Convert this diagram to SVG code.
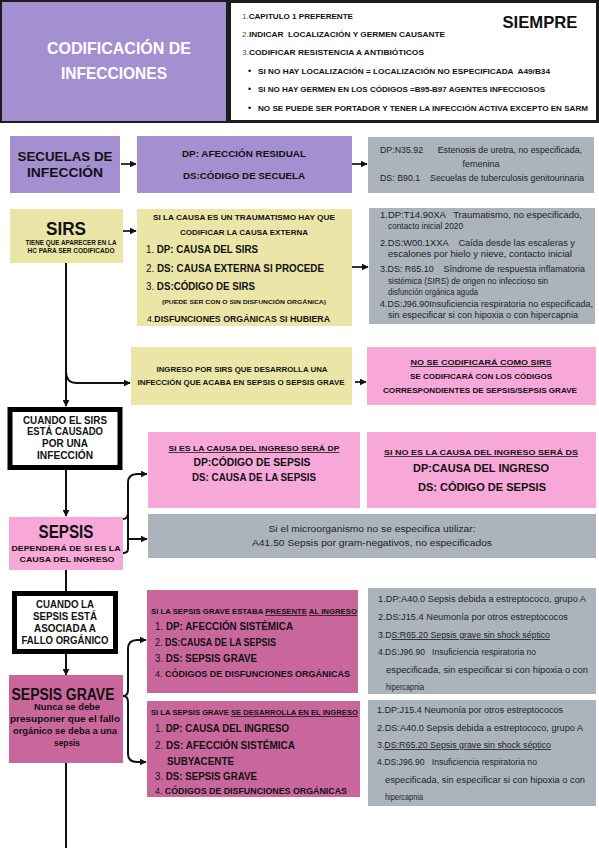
<svg xmlns="http://www.w3.org/2000/svg" width="599" height="848" viewBox="0 0 599 848">
<defs>
<marker id="ah" viewBox="0 0 10 10" refX="9" refY="5" markerWidth="7" markerHeight="7" markerUnits="userSpaceOnUse" orient="auto"><path d="M0,0 L10,5 L0,10 z" fill="#111"/></marker>
<style>
text{font-family:"Liberation Sans",Arial,sans-serif;fill:#111}
.b{font-weight:bold}
.c{text-anchor:middle}
.w{fill:#fff}
.g{font-size:8.5px;fill:#1e1e1e}
.n{font-weight:normal}
.u{text-decoration:underline}
.purple{fill:#a48fd1}
.gray{fill:#abb4bd}
.khaki{fill:#ebe6a8}
.pink{fill:#f7a8d9}
.mag{fill:#c9679d}
.frame{fill:#fff;stroke:#000;stroke-width:5}
.conn path{fill:none;stroke:#111;stroke-width:1.7}
.conn .main{stroke-width:2}
</style>
</defs>
<rect width="599" height="848" fill="#fff"/>

<g id="header">
<rect x="0" y="0" width="599" height="123" fill="#1c1c1c"/>
<rect x="2" y="2" width="224" height="119" class="purple"/>
<rect x="231" y="3" width="365" height="117" fill="#fff"/>
<text x="119" y="54" class="b c w" font-size="16" textLength="144" lengthAdjust="spacingAndGlyphs">CODIFICACIÓN DE</text>
<text x="114" y="79" class="b c w" font-size="16" textLength="106" lengthAdjust="spacingAndGlyphs">INFECCIONES</text>
<text x="242" y="19" class="b" font-size="8" textLength="111" lengthAdjust="spacingAndGlyphs"><tspan class="n" fill="#555">1.</tspan>CAPITULO 1 PREFERENTE</text>
<text x="242" y="37" class="b" font-size="8" textLength="203" lengthAdjust="spacingAndGlyphs" xml:space="preserve"><tspan class="n" fill="#555">2.</tspan>INDICAR  LOCALIZACIÓN Y GERMEN CAUSANTE</text>
<text x="242" y="55" class="b" font-size="8" textLength="182" lengthAdjust="spacingAndGlyphs"><tspan class="n" fill="#555">3.</tspan>CODIFICAR RESISTENCIA A ANTIBIÓTICOS</text>
<text x="248" y="74" font-size="9">•</text>
<text x="248" y="92" font-size="9">•</text>
<text x="248" y="111" font-size="9">•</text>
<text x="258" y="74" class="b" font-size="8" textLength="292" lengthAdjust="spacingAndGlyphs" xml:space="preserve">SI NO HAY LOCALIZACIÓN = LOCALIZACIÓN NO ESPECIFICADA  A49/B34</text>
<text x="258" y="92" class="b" font-size="8" textLength="287" lengthAdjust="spacingAndGlyphs">SI NO HAY GERMEN EN LOS CÓDIGOS =B95-B97 AGENTES INFECCIOSOS</text>
<text x="258" y="111" class="b" font-size="8" textLength="330" lengthAdjust="spacingAndGlyphs">NO SE PUEDE SER PORTADOR Y TENER LA INFECCIÓN ACTIVA EXCEPTO EN SARM</text>
<text x="540" y="28" class="b c" font-size="16.5" textLength="75" lengthAdjust="spacingAndGlyphs">SIEMPRE</text>
</g>

<g id="secuelas">
<rect x="10" y="136" width="110" height="57" class="purple"/>
<text x="65" y="161" class="b c" font-size="13.5" textLength="95" lengthAdjust="spacingAndGlyphs">SECUELAS DE</text>
<text x="65" y="177" class="b c" font-size="13.5" textLength="76" lengthAdjust="spacingAndGlyphs">INFECCIÓN</text>
</g>
<g id="secuelas-dp">
<rect x="137" y="136" width="215" height="57" class="purple"/>
<text x="244" y="157" class="b c" font-size="9.5" textLength="124" lengthAdjust="spacingAndGlyphs">DP: AFECCIÓN RESIDUAL</text>
<text x="244" y="179" class="b c" font-size="9.5" textLength="122" lengthAdjust="spacingAndGlyphs">DS:CÓDIGO DE SECUELA</text>
</g>
<g id="secuelas-ej">
<rect x="368" y="137" width="226" height="56" class="gray"/>
<text x="380" y="153" class="g" textLength="202" lengthAdjust="spacingAndGlyphs" xml:space="preserve">DP:N35.92      Estenosis de uretra, no especificada,</text>
<text x="481" y="167" class="g c" textLength="37" lengthAdjust="spacingAndGlyphs">femenina</text>
<text x="380" y="181" class="g" textLength="204" lengthAdjust="spacingAndGlyphs" xml:space="preserve">DS: B90.1    Secuelas de tuberculosis genitourinaria</text>
</g>

<g id="sirs">
<rect x="10" y="209" width="113" height="54" class="khaki"/>
<text x="66" y="235" class="b c" font-size="18" textLength="40" lengthAdjust="spacingAndGlyphs">SIRS</text>
<text x="71" y="245" class="b c" font-size="6.3" textLength="91" lengthAdjust="spacingAndGlyphs">TIENE QUE APARECER EN LA</text>
<text x="71" y="253" class="b c" font-size="6.3" textLength="87" lengthAdjust="spacingAndGlyphs">HC PARA SER CODIFICADO</text>
</g>
<g id="sirs-reglas">
<rect x="137" y="209" width="215" height="117" class="khaki"/>
<text x="244" y="220" class="b c" font-size="7.5" textLength="182" lengthAdjust="spacingAndGlyphs">SI LA CAUSA ES UN TRAUMATISMO HAY QUE</text>
<text x="244" y="235" class="b c" font-size="7.5" textLength="128" lengthAdjust="spacingAndGlyphs">CODIFICAR LA CAUSA EXTERNA</text>
<text x="146" y="253" class="b" font-size="11" textLength="112" lengthAdjust="spacingAndGlyphs"><tspan class="n">1. </tspan>DP: CAUSA DEL SIRS</text>
<text x="146" y="272" class="b" font-size="11" textLength="178" lengthAdjust="spacingAndGlyphs"><tspan class="n">2. </tspan>DS: CAUSA EXTERNA SI PROCEDE</text>
<text x="146" y="290" class="b" font-size="11" textLength="109" lengthAdjust="spacingAndGlyphs"><tspan class="n">3. </tspan>DS:CÓDIGO DE SIRS</text>
<text x="244" y="304" class="b c" font-size="5.8" textLength="164" lengthAdjust="spacingAndGlyphs">(PUEDE SER CON O SIN DISFUNCIÓN ORGÁNICA)</text>
<text x="147" y="322" class="b" font-size="9.5" textLength="183" lengthAdjust="spacingAndGlyphs"><tspan class="n">4.</tspan>DISFUNCIONES ORGÁNICAS SI HUBIERA</text>
</g>
<g id="sirs-ej">
<rect x="369" y="208" width="226" height="116" class="gray"/>
<text x="380" y="218" class="g" textLength="202" lengthAdjust="spacingAndGlyphs" xml:space="preserve">1.DP:T14.90XA   Traumatismo, no especificado,</text>
<text x="388" y="229" class="g" textLength="75" lengthAdjust="spacingAndGlyphs">contacto inicial 2020</text>
<text x="380" y="246" class="g" textLength="195" lengthAdjust="spacingAndGlyphs" xml:space="preserve">2.DS:W00.1XXA    Caída desde las escaleras y</text>
<text x="388" y="257" class="g" textLength="184" lengthAdjust="spacingAndGlyphs">escalones por hielo y nieve, contacto inicial</text>
<text x="380" y="272" class="g" textLength="205" lengthAdjust="spacingAndGlyphs" xml:space="preserve">3.DS: R65.10    Síndrome de respuesta inflamatoria</text>
<text x="388" y="284" class="g" textLength="160" lengthAdjust="spacingAndGlyphs">sistémica (SIRS) de origen no infeccioso sin</text>
<text x="388" y="295" class="g" textLength="90" lengthAdjust="spacingAndGlyphs">disfunción orgánica aguda</text>
<text x="380" y="307" class="g" textLength="213" lengthAdjust="spacingAndGlyphs">4.DS:J96.90Insuficiencia respiratoria no especificada,</text>
<text x="388" y="318" class="g" textLength="190" lengthAdjust="spacingAndGlyphs">sin especificar si con hipoxia o con hipercapnia</text>
</g>

<g id="ingreso-sirs">
<rect x="131" y="347" width="221" height="58" class="khaki"/>
<text x="242" y="372" class="b c" font-size="8" textLength="171" lengthAdjust="spacingAndGlyphs">INGRESO POR SIRS QUE DESARROLLA UNA</text>
<text x="241" y="385" class="b c" font-size="8" textLength="207" lengthAdjust="spacingAndGlyphs">INFECCIÓN QUE ACABA EN SEPSIS O SEPSIS GRAVE</text>
</g>
<g id="no-sirs">
<rect x="367" y="347" width="229" height="58" class="pink"/>
<text x="481" y="365" class="b c u" font-size="8" textLength="141" lengthAdjust="spacingAndGlyphs">NO SE CODIFICARÁ COMO SIRS</text>
<text x="481" y="379" class="b c" font-size="8" textLength="142" lengthAdjust="spacingAndGlyphs">SE CODIFICARÁ CON LOS CÓDIGOS</text>
<text x="480" y="393" class="b c" font-size="8" textLength="194" lengthAdjust="spacingAndGlyphs">CORRESPONDIENTES DE SEPSIS/SEPSIS GRAVE</text>
</g>

<g id="cuando-sirs">
<rect x="10" y="409.5" width="110" height="58" class="frame"/>
<text x="65" y="424" class="b c" font-size="10" textLength="84" lengthAdjust="spacingAndGlyphs">CUANDO EL SIRS</text>
<text x="65" y="435" class="b c" font-size="10" textLength="76" lengthAdjust="spacingAndGlyphs">ESTÁ CAUSADO</text>
<text x="65" y="447" class="b c" font-size="10" textLength="46" lengthAdjust="spacingAndGlyphs">POR UNA</text>
<text x="65" y="459" class="b c" font-size="10" textLength="56" lengthAdjust="spacingAndGlyphs">INFECCIÓN</text>
</g>

<g id="sepsis-dp">
<rect x="148" y="432" width="212" height="76" class="pink"/>
<text x="254" y="451" class="b c u" font-size="7.5" textLength="171" lengthAdjust="spacingAndGlyphs">SI ES LA CAUSA DEL INGRESO SERÁ DP</text>
<text x="252" y="466" class="b c" font-size="10" textLength="117" lengthAdjust="spacingAndGlyphs">DP:CÓDIGO DE SEPSIS</text>
<text x="254" y="481" class="b c" font-size="10" textLength="124" lengthAdjust="spacingAndGlyphs">DS: CAUSA DE LA SEPSIS</text>
</g>
<g id="sepsis-ds">
<rect x="367" y="432" width="229" height="76" class="pink"/>
<text x="481" y="455" class="b c u" font-size="7.5" textLength="194" lengthAdjust="spacingAndGlyphs">SI NO ES LA CAUSA DEL INGRESO SERÁ DS</text>
<text x="481" y="472" class="b c" font-size="11" textLength="136" lengthAdjust="spacingAndGlyphs">DP:CAUSA DEL INGRESO</text>
<text x="482" y="491" class="b c" font-size="11" textLength="128" lengthAdjust="spacingAndGlyphs">DS: CÓDIGO DE SEPSIS</text>
</g>

<g id="sepsis">
<rect x="9" y="517" width="114" height="53" class="pink"/>
<text x="66" y="538" class="b c" font-size="18" textLength="55" lengthAdjust="spacingAndGlyphs">SEPSIS</text>
<text x="66" y="551" class="b c" font-size="7.5" textLength="109" lengthAdjust="spacingAndGlyphs">DEPENDERÁ DE SI ES LA</text>
<text x="67" y="562" class="b c" font-size="7.5" textLength="95" lengthAdjust="spacingAndGlyphs">CAUSA DEL INGRESO</text>
</g>
<g id="sepsis-ej">
<rect x="148" y="514" width="448" height="44" class="gray"/>
<text x="372" y="532" class="g c" textLength="207" lengthAdjust="spacingAndGlyphs">Si el microorganismo no se especifica utilizar:</text>
<text x="372" y="546" class="g c" textLength="240" lengthAdjust="spacingAndGlyphs">A41.50 Sepsis por gram-negativos, no especificados</text>
</g>

<g id="cuando-sepsis">
<rect x="14.5" y="593.5" width="101" height="58" class="frame"/>
<text x="65" y="608" class="b c" font-size="10.5" textLength="58" lengthAdjust="spacingAndGlyphs">CUANDO LA</text>
<text x="65" y="620" class="b c" font-size="10.5" textLength="64" lengthAdjust="spacingAndGlyphs">SEPSIS ESTÁ</text>
<text x="65" y="632" class="b c" font-size="10.5" textLength="62" lengthAdjust="spacingAndGlyphs">ASOCIADA A</text>
<text x="65" y="644" class="b c" font-size="10.5" textLength="87" lengthAdjust="spacingAndGlyphs">FALLO ORGÁNICO</text>
</g>

<g id="sepsis-grave">
<rect x="9" y="675" width="114" height="88" class="mag"/>
<text x="63" y="700" class="b c" font-size="16" textLength="103" lengthAdjust="spacingAndGlyphs">SEPSIS GRAVE</text>
<text x="67" y="710" class="b c" font-size="8.5" textLength="66" lengthAdjust="spacingAndGlyphs">Nunca se debe</text>
<text x="65" y="722" class="b c" font-size="8.5" textLength="110" lengthAdjust="spacingAndGlyphs">presuponer que el fallo</text>
<text x="65" y="734" class="b c" font-size="8.5" textLength="104" lengthAdjust="spacingAndGlyphs">orgánico se deba a una</text>
<text x="67" y="746" class="b c" font-size="8.5" textLength="26" lengthAdjust="spacingAndGlyphs">sepsis</text>
</g>

<g id="sg-presente">
<rect x="147" y="590" width="211" height="103" class="mag"/>
<text x="151" y="614" class="b" font-size="7.5" textLength="206" lengthAdjust="spacingAndGlyphs">SI LA SEPSIS GRAVE ESTABA <tspan class="u">PRESENTE</tspan> <tspan class="u">AL INGRESO</tspan></text>
<text x="155" y="630" class="b" font-size="10.2" textLength="138" lengthAdjust="spacingAndGlyphs"><tspan class="n">1. </tspan>DP: AFECCIÓN SISTÉMICA</text>
<text x="155" y="646" class="b" font-size="10.2" textLength="121" lengthAdjust="spacingAndGlyphs"><tspan class="n">2. </tspan>DS:CAUSA DE LA SEPSIS</text>
<text x="155" y="662" class="b" font-size="10.2" textLength="102" lengthAdjust="spacingAndGlyphs"><tspan class="n">3. </tspan>DS: SEPSIS GRAVE</text>
<text x="155" y="677" class="b" font-size="8.8" textLength="195" lengthAdjust="spacingAndGlyphs"><tspan class="n">4. </tspan>CÓDIGOS DE DISFUNCIONES ORGÁNICAS</text>
</g>
<g id="sg-presente-ej">
<rect x="368" y="588" width="228" height="106" class="gray"/>
<text x="378" y="602" class="g" textLength="208" lengthAdjust="spacingAndGlyphs">1.DP:A40.0 Sepsis debida a estreptococo, grupo A</text>
<text x="378" y="620" class="g" textLength="190" lengthAdjust="spacingAndGlyphs">2.DS:J15.4 Neumonía por otros estreptococos</text>
<text x="378" y="638" class="g" textLength="172" lengthAdjust="spacingAndGlyphs">3.D<tspan class="u">S:R65.20 Sepsis grave sin shock séptico</tspan></text>
<text x="378" y="655" class="g" textLength="158" lengthAdjust="spacingAndGlyphs" xml:space="preserve">4.DS:J96.90   Insuficiencia respiratoria no</text>
<text x="386" y="673" class="g" textLength="202" lengthAdjust="spacingAndGlyphs">especificada, sin especificar si con hipoxia o con</text>
<text x="386" y="690" class="g" textLength="38" lengthAdjust="spacingAndGlyphs">hipercapnia</text>
</g>

<g id="sg-desarrolla">
<rect x="147" y="701" width="213" height="96" class="mag"/>
<text x="151" y="715" class="b" font-size="7.5" textLength="207" lengthAdjust="spacingAndGlyphs">SI LA SEPSIS GRAVE <tspan class="u">SE DESARROLLA EN EL INGRESO</tspan></text>
<text x="155" y="732" class="b" font-size="10.2" textLength="134" lengthAdjust="spacingAndGlyphs"><tspan class="n">1. </tspan>DP: CAUSA DEL INGRESO</text>
<text x="155" y="749" class="b" font-size="10.2" textLength="140" lengthAdjust="spacingAndGlyphs"><tspan class="n">2. </tspan>DS: AFECCIÓN SISTÉMICA</text>
<text x="167" y="765" class="b" font-size="10.2" textLength="67" lengthAdjust="spacingAndGlyphs">SUBYACENTE</text>
<text x="155" y="780" class="b" font-size="10.2" textLength="102" lengthAdjust="spacingAndGlyphs"><tspan class="n">3. </tspan>DS: SEPSIS GRAVE</text>
<text x="155" y="794" class="b" font-size="8.8" textLength="192" lengthAdjust="spacingAndGlyphs"><tspan class="n">4. </tspan>CÓDIGOS DE DISFUNCIONES ORGÁNICAS</text>
</g>
<g id="sg-desarrolla-ej">
<rect x="368" y="700" width="228" height="106" class="gray"/>
<text x="377" y="713" class="g" textLength="186" lengthAdjust="spacingAndGlyphs">1.DP:J15.4 Neumonía por otros estreptococos</text>
<text x="377" y="731" class="g" textLength="206" lengthAdjust="spacingAndGlyphs">2.DS:A40.0 Sepsis debida a estreptococo, grupo A</text>
<text x="377" y="748" class="g" textLength="174" lengthAdjust="spacingAndGlyphs">3.<tspan class="u">DS:R65.20 Sepsis grave sin shock séptico</tspan></text>
<text x="377" y="765" class="g" textLength="160" lengthAdjust="spacingAndGlyphs" xml:space="preserve">4.DS:J96.90   Insuficiencia respiratoria no</text>
<text x="385" y="783" class="g" textLength="200" lengthAdjust="spacingAndGlyphs">especificada, sin especificar si con hipoxia o con</text>
<text x="385" y="800" class="g" textLength="38" lengthAdjust="spacingAndGlyphs">hipercapnia</text>
</g>

<g id="connectors" class="conn">
<path d="M121,164 H136" marker-end="url(#ah)"/>
<path d="M352,164 H367" marker-end="url(#ah)"/>
<path d="M123,231 H136" marker-end="url(#ah)"/>
<path d="M352,267 H368" marker-end="url(#ah)"/>
<path class="main" d="M66,263 V406" marker-end="url(#ah)"/>
<path class="main" d="M66,372 Q66,383 77,383 H130" marker-end="url(#ah)"/>
<path d="M355,382 H366" marker-end="url(#ah)"/>
<path class="main" d="M66,470 V516" marker-end="url(#ah)"/>
<path class="main" d="M123,519 Q128,519 128,513 V483 Q128,474 137,474 H147" marker-end="url(#ah)"/>
<path class="main" d="M128,513 V549 Q128,553 123,553"/>
<path class="main" d="M128,539 H147" marker-end="url(#ah)"/>
<path class="main" d="M66,570 V591"/>
<path class="main" d="M66,654 V675" marker-end="url(#ah)"/>
<path class="main" d="M123,696 Q128,696 128,690 V649 Q128,640 137,640 H146" marker-end="url(#ah)"/>
<path class="main" d="M123,696 Q128,696 128,702 V754 Q128,762 137,762 H146" marker-end="url(#ah)"/>
<path class="main" d="M66,763 V848"/>
</g>
</svg>
